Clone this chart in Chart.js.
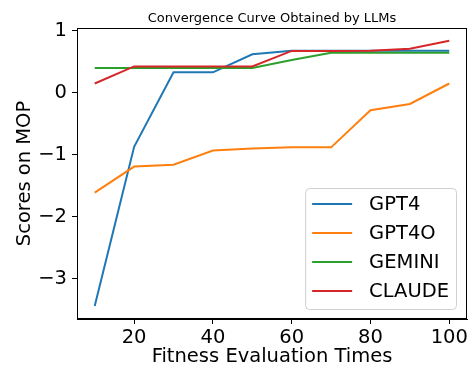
<!DOCTYPE html>
<html>
<head>
<meta charset="utf-8">
<script src="https://cdn.jsdelivr.net/npm/chart.js@4/dist/chart.umd.min.js"></script>
<style>
  body { margin: 0; background: #fff; }
  #wrap { width: 473px; height: 368px; position: relative; }
</style>
</head>
<body>
<div id="wrap"><canvas id="chart"></canvas></div>
<script>
// data
const evalTimes = [10, 20, 30, 40, 50, 60, 70, 80, 90, 100];
const gpt4   = [-3.44, -0.87, 0.33, 0.33, 0.62, 0.68, 0.68, 0.68, 0.68, 0.68];
const gpt4o  = [-1.61, -1.19, -1.16, -0.93, -0.90, -0.88, -0.88, -0.28, -0.18, 0.15];
const gemini = [0.40, 0.40, 0.40, 0.40, 0.40, 0.53, 0.645, 0.645, 0.645, 0.645];
const claude = [0.15, 0.425, 0.425, 0.425, 0.425, 0.675, 0.675, 0.68, 0.71, 0.84];
const seriesNames = ['GPT4', 'GPT4O', 'GEMINI', 'CLAUDE'];
const xTicks = [20, 40, 60, 80, 100];
const yTicks = [-3, -2, -1, 0, 1];
const chartTitle = 'Convergence Curve Obtained by LLMs';

const colors = ['#1f77b4', '#ff7f0e', '#2ca02c', '#d62728'];
const FONT = 'DejaVu Sans';
const BIG = 19.5;

function toPoints(ys) {
    return evalTimes.map((x, i) => ({ x: x, y: ys[i] }));
}

// title centred over the axes (not the canvas) + full box round the plot
const frame = {
    id: 'frame',
    afterDatasetsDraw(chart) {
        const { ctx, chartArea: a } = chart;
        ctx.save();
        ctx.strokeStyle = '#000';
        ctx.lineWidth = 1;
        ctx.strokeRect(Math.round(a.left) + 0.5, Math.round(a.top) + 0.5,
            Math.round(a.right - a.left) - 1, Math.round(a.bottom - a.top) - 1);
        ctx.fillStyle = '#000';
        ctx.font = '13px "' + FONT + '"';
        ctx.textAlign = 'center';
        ctx.textBaseline = 'alphabetic';
        ctx.fillText(chartTitle, (a.left + a.right) / 2, 21.7);
        ctx.restore();
    }
};

// legend drawn inside the plot, lower right
const insideLegend = {
    id: 'insideLegend',
    afterDraw(chart) {
        const { ctx, chartArea: a } = chart;
        const sets = chart.data.datasets;
        ctx.save();
        ctx.font = BIG + 'px "' + FONT + '"';
        const textW = Math.max(...sets.map(d => ctx.measureText(d.label).width));
        const w = 7 + 40 + 17 + textW + 7;
        const rowH = 29;
        const h = 16 + rowH * (sets.length - 1) + 18;
        const x = a.right - 11 - w;
        const y = a.bottom - 10 - h;
        ctx.beginPath();
        ctx.roundRect(x + 0.5, y + 0.5, w, h, 4);
        ctx.fillStyle = 'rgba(255,255,255,0.8)';
        ctx.fill();
        ctx.strokeStyle = '#d0d0d0';
        ctx.lineWidth = 1;
        ctx.stroke();
        sets.forEach((d, i) => {
            const cy = y + 16 + i * rowH;
            ctx.beginPath();
            ctx.moveTo(x + 7, cy);
            ctx.lineTo(x + 47, cy);
            ctx.strokeStyle = d.borderColor;
            ctx.lineWidth = 2;
            ctx.stroke();
            ctx.fillStyle = '#000';
            ctx.textBaseline = 'middle';
            ctx.fillText(d.label, x + 64, cy + 1);
        });
        ctx.restore();
    }
};

const seriesValues = [gpt4, gpt4o, gemini, claude];

new Chart(document.getElementById('chart').getContext('2d'), {
    type: 'line',
    data: {
        datasets: seriesNames.map((name, i) => ({
            label: name,
            data: toPoints(seriesValues[i]),
            borderColor: colors[i],
            backgroundColor: colors[i],
            borderWidth: 2,
            pointRadius: 0,
            tension: 0,
            order: seriesNames.length - i
        }))
    },
    options: {
        responsive: true,
        maintainAspectRatio: false,
        animation: false,
        layout: { padding: { left: 0, right: 6, top: 28, bottom: 0 } },
        plugins: {
            legend: { display: false },
            tooltip: { enabled: false },
            title: { display: false }
        },
        scales: {
            x: {
                type: 'linear',
                min: 5.5,
                max: 104.5,
                afterBuildTicks: scale => { scale.ticks = xTicks.map(v => ({ value: v })); },
                afterFit: scale => { scale.height = 49; },
                grid: { drawOnChartArea: false, tickLength: 5, tickColor: '#000' },
                border: { color: '#000' },
                ticks: {
                    color: '#000',
                    padding: 2,
                    maxRotation: 0,
                    font: { family: FONT, size: BIG }
                },
                title: {
                    display: true,
                    text: 'Fitness Evaluation Times',
                    color: '#000',
                    font: { family: FONT, size: BIG, lineHeight: 1 },
                    padding: { top: 0, bottom: 1 }
                }
            },
            y: {
                min: -3.648,
                max: 1.045,
                afterBuildTicks: scale => { scale.ticks = yTicks.map(v => ({ value: v })); },
                afterFit: scale => { scale.width = 77; },
                grid: { drawOnChartArea: false, tickLength: 5, tickColor: '#000' },
                border: { color: '#000' },
                ticks: {
                    color: '#000',
                    padding: 5,
                    font: { family: FONT, size: BIG },
                    callback: v => String(v).replace('-', '\u2212')
                },
                title: {
                    display: true,
                    text: 'Scores on MOP',
                    color: '#000',
                    font: { family: FONT, size: BIG, lineHeight: 1 },
                    padding: { top: 15, bottom: 0 }
                }
            }
        }
    },
    plugins: [frame, insideLegend]
});
</script>
</body>
</html>
